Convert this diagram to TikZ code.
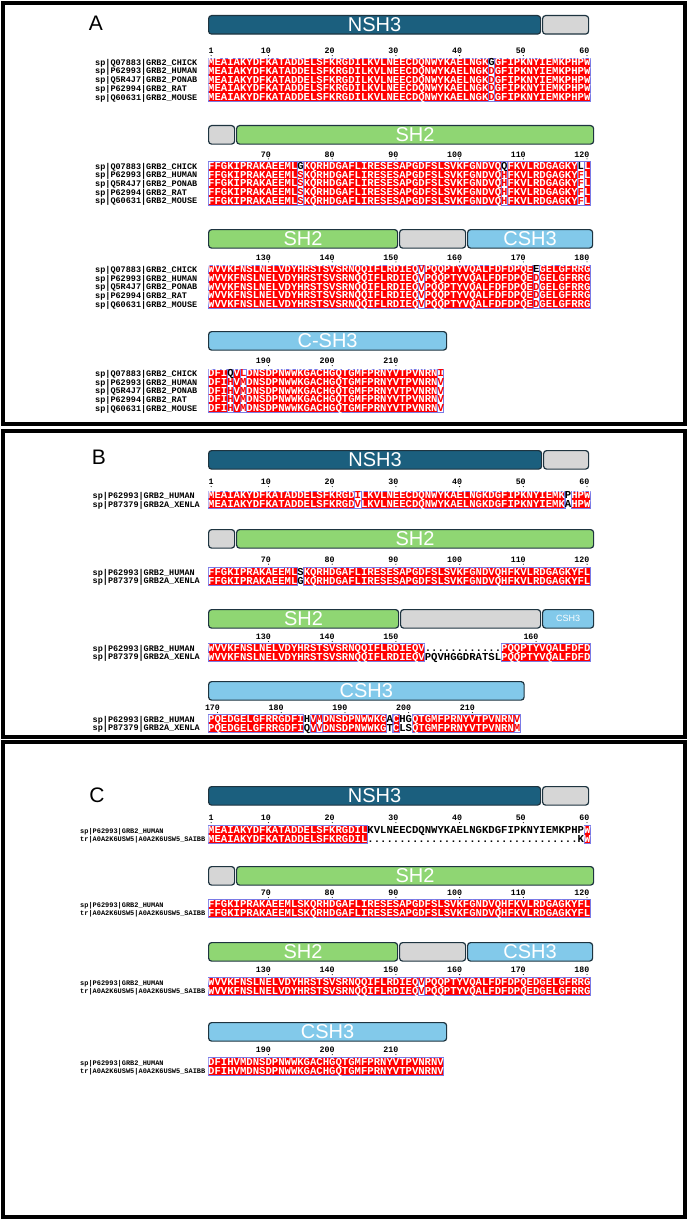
\documentclass[tikz,border=0pt]{standalone}
\usepackage{fontspec}
\setmainfont{Liberation Sans}
\newfontfamily\seqmono{Liberation Mono}
\usepackage{tikz}
\usetikzlibrary{positioning}
\definecolor{espred}{HTML}{FF0000}
\definecolor{framecol}{HTML}{7A7AE6}
\definecolor{nshcol}{HTML}{1B5F7E}
\definecolor{greycol}{HTML}{D6D6D6}
\definecolor{sh2col}{HTML}{8FD673}
\definecolor{cshcol}{HTML}{82C9EA}
\definecolor{barline}{HTML}{1E3440}
\newcommand{\seqfont}{\seqmono\bfseries\fontsize{10.615}{11}\selectfont}
\newcommand{\namefont}{\seqmono\bfseries\fontsize{8.5}{9}\selectfont}
\newcommand{\namefontsm}{\seqmono\bfseries\fontsize{6.95}{8}\selectfont}
\newcommand{\numfont}{\seqmono\bfseries\fontsize{8.3}{9}\selectfont}
\newcommand{\domfont}{\fontsize{20}{22}\selectfont}
\newcommand{\panfont}{\fontsize{21}{24}\selectfont}
\newcommand{\nonid}[1]{\textcolor{black}{#1}}
\newcommand{\simres}[1]{\textcolor{espred}{#1}}
\def\cw{6.37}
% column runs: first col, last col, top, bottom
\newcommand{\idruns}[3]{\foreach \a/\b in {#1} {\draw[idbox] ({208+(\a-1)*\cw},#2) rectangle ({208+\b*\cw},#3);}}
\newcommand{\simruns}[3]{\foreach \a/\b in {#1} {\draw[simframe] ({208+(\a-1)*\cw},#2) rectangle ({208+\b*\cw},#3);}}
% numbering above a block
\newcommand{\numline}[3]{\foreach \c/\n in {#3} {
  \fill ({208+(\c-0.5)*\cw},#2+4.6) circle (0.55pt);
  \node[rulnum] (#1n\c) at ({208+(\c-0.5)*\cw+2.6},#2) {\n};}}

\tikzset{
  dombar/.style={draw=barline, line width=1.2pt, rounded corners=3pt, minimum height=18.5pt,
                 inner sep=0pt, anchor=north west, text=white, font=\domfont},
  seqrow/.style={anchor=west, inner sep=0pt, text height=7pt, text depth=0pt, text=white, font=\seqfont},
  namerow/.style={anchor=west, inner sep=0pt, text height=6pt, text depth=0pt, font=\namefont},
  rulnum/.style={anchor=east, inner sep=0pt, font=\numfont},
  idbox/.style={fill=espred, draw=framecol, line width=0.4pt},
  simframe/.style={draw=framecol, line width=0.6pt},
  panel/.style={draw=black, line width=4pt},
  panlabel/.style={font=\panfont, inner sep=0pt}
}

\begin{document}
\begin{tikzpicture}[x=1pt, y=-1pt]
  \useasboundingbox (0,0) rectangle (688,1220);
  \fill[white] (0,0) rectangle (688,1220);
  \draw[panel] (3,3) rectangle (685,424);
  \draw[panel] (3,431) rectangle (685,737);
  \draw[panel] (3,742) rectangle (685,1217);

  % ---------------- panel A ----------------
  \node[panlabel] (labA) at (96,23) {A};
  \node[dombar, fill=nshcol, minimum width=332pt] (A1nsh) at (208,15) {NSH3};
  \node[dombar, fill=greycol, minimum width=46pt] (A1gap) at (542,15) {};
  \numline{A1}{51}{1/1,10/10,20/20,30/30,40/40,50/50,60/60}
  \idruns{1/44,46/60}{57.95}{101.45}
  \simruns{1/60}{57.95}{101.45}
  \node[seqrow] (A1s0) at (208,62.3) {MEAIAKYDFKATADDELSFKRGDILKVLNEECDQNWYKAELNGK\nonid{G}GFIPKNYIEMKPHPW};
  \foreach \k in {1,...,4}
    \node[seqrow] (A1s\k) at (208,62.3+\k*8.7) {MEAIAKYDFKATADDELSFKRGDILKVLNEECDQNWYKAELNGK\simres{D}GFIPKNYIEMKPHPW};

  \node[dombar, fill=greycol, minimum width=26pt] (A2gap) at (208,125) {};
  \node[dombar, fill=sh2col, minimum width=357pt] (A2sh2) at (236,125) {SH2};
  \numline{A2}{154.3}{10/70,20/80,30/90,40/100,50/110,60/120}
  \idruns{1/14,16/46,48/58,60/60}{161.65}{205.15}
  \simruns{1/60}{161.65}{205.15}
  \node[seqrow] (A2s0) at (208,166) {FFGKIPRAKAEEML\nonid{G}KQRHDGAFLIRESESAPGDFSLSVKFGNDVQ\nonid{Q}FKVLRDGAGKY\nonid{L}L};
  \foreach \k in {1,...,4}
    \node[seqrow] (A2s\k) at (208,166+\k*8.7) {FFGKIPRAKAEEML\simres{S}KQRHDGAFLIRESESAPGDFSLSVKFGNDVQ\simres{H}FKVLRDGAGKY\simres{F}L};

  \node[dombar, fill=sh2col, minimum width=189pt] (A3sh2) at (208,229) {SH2};
  \node[dombar, fill=greycol, minimum width=66pt] (A3gap) at (399,229) {};
  \node[dombar, fill=cshcol, minimum width=125pt] (A3csh) at (467,229) {CSH3};
  \numline{A3}{257.3}{10/130,20/140,30/150,40/160,50/170,60/180}
  \idruns{1/33,35/51,53/60}{264.95}{308.45}
  \simruns{1/60}{264.95}{308.45}
  \node[seqrow] (A3s0) at (208,269.3) {WVVKFNSLNELVDYHRSTSVSRNQQIFLRDIEQ\simres{V}PQQPTYVQALFDFDPQE\nonid{E}GELGFRRG};
  \foreach \k in {1,...,4}
    \node[seqrow] (A3s\k) at (208,269.3+\k*8.7) {WVVKFNSLNELVDYHRSTSVSRNQQIFLRDIEQ\simres{V}PQQPTYVQALFDFDPQE\simres{D}GELGFRRG};

  \node[dombar, fill=cshcol, minimum width=238pt] (A4csh) at (208,331) {C-SH3};
  \numline{A4}{361}{10/190,20/200,30/210}
  \idruns{1/3,5/5,7/36}{368.95}{412.45}
  \simruns{1/37}{368.95}{412.45}
  \node[seqrow] (A4s0) at (208,373.3) {DFI\nonid{Q}V\simres{L}DNSDPNWWKGACHGQTGMFPRNYVTPVNRN\simres{I}};
  \foreach \k in {1,...,4}
    \node[seqrow] (A4s\k) at (208,373.3+\k*8.7) {DFI\simres{H}V\simres{M}DNSDPNWWKGACHGQTGMFPRNYVTPVNRN\simres{V}};

  % names of panel A
  \foreach \blk/\ry in {1/62.3,2/166,3/269.3,4/373.3}
    \foreach \k/\nm in {0/{sp|Q07883|GRB2\_CHICK},1/{sp|P62993|GRB2\_HUMAN},2/{sp|Q5R4J7|GRB2\_PONAB},
                        3/{sp|P62994|GRB2\_RAT},4/{sp|Q60631|GRB2\_MOUSE}}
      \node[namerow] (An\blk\k) at (95,\ry+\k*8.7) {\nm};

  % ---------------- panel B ----------------
  \node[panlabel] (labB) at (99,457) {B};
  \node[dombar, fill=nshcol, minimum width=333pt] (B1nsh) at (208,450) {NSH3};
  \node[dombar, fill=greycol, minimum width=45pt] (B1gap) at (543,450) {};
  \numline{B1}{482}{1/1,10/10,20/20,30/30,40/40,50/50,60/60}
  \idruns{1/23,25/56,58/60}{491.05}{508.45}
  \simruns{1/56,58/60}{491.05}{508.45}
  \node[seqrow] (B1s0) at (208,495.4) {MEAIAKYDFKATADDELSFKRGD\simres{I}LKVLNEECDQNWYKAELNGKDGFIPKNYIEMK\nonid{P}HPW};
  \node[seqrow] (B1s1) at (208,504.1) {MEAIAKYDFKATADDELSFKRGD\simres{V}LKVLNEECDQNWYKAELNGKDGFIPKNYIEMK\nonid{A}HPW};

  \node[dombar, fill=greycol, minimum width=26pt] (B2gap) at (208,529) {};
  \node[dombar, fill=sh2col, minimum width=357pt] (B2sh2) at (236,529) {SH2};
  \numline{B2}{559.6}{10/70,20/80,30/90,40/100,50/110,60/120}
  \idruns{1/14,16/60}{567.65}{585.05}
  \simruns{1/14,16/60}{567.65}{585.05}
  \node[seqrow] (B2s0) at (208,572) {FFGKIPRAKAEEML\nonid{S}KQRHDGAFLIRESESAPGDFSLSVKFGNDVQHFKVLRDGAGKYFL};
  \node[seqrow] (B2s1) at (208,580.7) {FFGKIPRAKAEEML\nonid{G}KQRHDGAFLIRESESAPGDFSLSVKFGNDVQHFKVLRDGAGKYFL};

  \node[dombar, fill=sh2col, minimum width=190pt] (B3sh2) at (208,609) {SH2};
  \node[dombar, fill=greycol, minimum width=140pt] (B3gap) at (400,609) {};
  \node[dombar, fill=cshcol, minimum width=51pt, font=\fontsize{9}{10}\selectfont] (B3csh) at (542,609) {CSH3};
  \numline{B3}{636.8}{10/130,20/140,30/150,52/160}
  \idruns{1/34,47/60}{643.65}{661.05}
  \simruns{1/34,47/60}{643.65}{661.05}
  \node[seqrow] (B3s0) at (208,648) {WVVKFNSLNELVDYHRSTSVSRNQQIFLRDIEQV\nonid{............}PQQPTYVQALFDFD};
  \node[seqrow] (B3s1) at (208,656.7) {WVVKFNSLNELVDYHRSTSVSRNQQIFLRDIEQV\nonid{PQVHGGDRATSL}PQQPTYVQALFDFD};

  \node[dombar, fill=cshcol, minimum width=315.5pt] (B4csh) at (208,681) {CSH3};
  \numline{B4}{708}{2/170,12/180,22/190,32/200,42/210}
  \idruns{1/15,17/17,19/28,30/30,33/48}{714.65}{732.05}
  \simruns{1/15,17/28,30/30,33/49}{714.65}{732.05}
  \node[seqrow] (B4s0) at (208,719) {PQEDGELGFRRGDFI\nonid{H}V\simres{M}DNSDPNWWKG\nonid{A}C\nonid{HG}QTGMFPRNYVTPVNRN\simres{V}};
  \node[seqrow] (B4s1) at (208,727.7) {PQEDGELGFRRGDFI\nonid{Q}V\simres{V}DNSDPNWWKG\nonid{T}C\nonid{LS}QTGMFPRNYVTPVNRN\simres{M}};

  % names of panel B
  \foreach \blk/\ry in {1/495.4,2/572,3/648,4/719}
    \foreach \k/\nm in {0/{sp|P62993|GRB2\_HUMAN},1/{sp|P87379|GRB2A\_XENLA}}
      \node[namerow] (Bn\blk\k) at (92.5,\ry+\k*8.7) {\nm};

  % ---------------- panel C ----------------
  \node[panlabel] (labC) at (97,795) {C};
  \node[dombar, fill=nshcol, minimum width=332pt] (C1nsh) at (208,786) {NSH3};
  \node[dombar, fill=greycol, minimum width=46pt] (C1gap) at (542,786) {};
  \numline{C1}{818}{1/1,10/10,20/20,30/30,40/40,50/50,60/60}
  \idruns{1/25,60/60}{825.65}{843.05}
  \simruns{1/25,60/60}{825.65}{843.05}
  \node[seqrow] (C1s0) at (208,830) {MEAIAKYDFKATADDELSFKRGDIL\nonid{KVLNEECDQNWYKAELNGKDGFIPKNYIEMKPHP}W};
  \node[seqrow] (C1s1) at (208,838.7) {MEAIAKYDFKATADDELSFKRGDIL\nonid{.................................K}W};

  \node[dombar, fill=greycol, minimum width=26pt] (C2gap) at (208,866) {};
  \node[dombar, fill=sh2col, minimum width=357pt] (C2sh2) at (236,866) {SH2};
  \numline{C2}{893}{10/70,20/80,30/90,40/100,50/110,60/120}
  \idruns{1/60}{899.65}{917.05}
  \foreach \k in {0,1}
    \node[seqrow] (C2s\k) at (208,904+\k*8.7) {FFGKIPRAKAEEMLSKQRHDGAFLIRESESAPGDFSLSVKFGNDVQHFKVLRDGAGKYFL};

  \node[dombar, fill=sh2col, minimum width=189pt] (C3sh2) at (208,942) {SH2};
  \node[dombar, fill=greycol, minimum width=66pt] (C3gap) at (399,942) {};
  \node[dombar, fill=cshcol, minimum width=125pt] (C3csh) at (467,942) {CSH3};
  \numline{C3}{970}{10/130,20/140,30/150,40/160,50/170,60/180}
  \idruns{1/33,35/60}{977.65}{995.05}
  \simruns{1/60}{977.65}{995.05}
  \foreach \k in {0,1}
    \node[seqrow] (C3s\k) at (208,982+\k*8.7) {WVVKFNSLNELVDYHRSTSVSRNQQIFLRDIEQ\simres{V}PQQPTYVQALFDFDPQEDGELGFRRG};

  \node[dombar, fill=cshcol, minimum width=238pt] (C4csh) at (208,1022) {CSH3};
  \numline{C4}{1050}{10/190,20/200,30/210}
  \idruns{1/37}{1057.65}{1075.05}
  \foreach \k in {0,1}
    \node[seqrow] (C4s\k) at (208,1062+\k*8.7) {DFIHVMDNSDPNWWKGACHGQTGMFPRNYVTPVNRNV};

  % names of panel C
  \foreach \blk/\ry in {1/830,2/904,3/982,4/1062}
    \foreach \k/\nm in {0/{sp|P62993|GRB2\_HUMAN},1/{tr|A0A2K6USW5|A0A2K6USW5\_SAIBB}}
      \node[namerow, font=\namefontsm] (Cn\blk\k) at (80,\ry+\k*8.7) {\nm};
\end{tikzpicture}
\end{document}
